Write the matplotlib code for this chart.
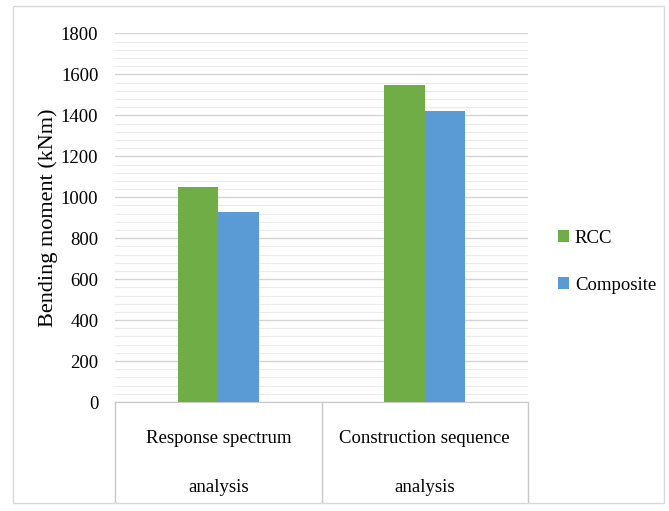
import numpy as np
import matplotlib.pyplot as plt
from matplotlib.patches import Rectangle
from matplotlib.lines import Line2D

# Bending moment for each analysis type
categories = ['Response spectrum\nanalysis', 'Construction sequence\nanalysis']
rcc = [1050, 1550]
composite = [930, 1420]
series_names = ['RCC', 'Composite']

green = '#70AD47'
blue = '#5B9BD5'

plt.rcParams['font.family'] = ['Liberation Serif', 'DejaVu Serif']

fig = plt.figure(figsize=(6.69, 5.11), dpi=100)
ax = fig.add_axes([115/669, 109/511, 413/669, 368.5/511])

x = np.arange(len(categories))
w = 0.195
ax.bar(x - w/2, rcc, w, color=green, label=series_names[0], zorder=3)
ax.bar(x + w/2, composite, w, color=blue, label=series_names[1], zorder=3)

ax.set_xlim(-0.5, 1.5)
ax.set_ylim(0, 1800)
ax.set_yticks(np.arange(0, 1801, 200))
ax.set_yticks(np.arange(0, 1801, 40), minor=True)
ax.grid(axis='y', which='major', color='#d4d4d4', lw=1.0, zorder=0)
ax.grid(axis='y', which='minor', color='#ebebeb', lw=0.8, zorder=0)
ax.tick_params(axis='y', which='both', length=0, pad=12, labelsize=13.5)

ax.set_xticks(x)
ax.set_xticklabels(categories, fontsize=13.5, linespacing=3.45)
ax.tick_params(axis='x', length=0, pad=20)

for s in ['top', 'right', 'left']:
    ax.spines[s].set_visible(False)
ax.spines['bottom'].set_color('#c8c8c8')

# category table lines under the axis
for xv in [0, 0.5, 1]:
    ax.add_line(Line2D([xv, xv], [0, -0.272], transform=ax.transAxes,
                       color='#c8c8c8', lw=1, clip_on=False))

ax.set_ylabel('Bending moment (kNm)', fontsize=16, labelpad=2)

fig.legend(loc='center left', bbox_to_anchor=(541/669, 1 - 262/511),
           frameon=False, fontsize=13.5, handlelength=0.6, handleheight=0.6,
           handletextpad=0.3, labelspacing=1.6)

# outer chart border
fig.add_artist(Rectangle((13/669, 8/511), 651/669, 497/511,
                         transform=fig.transFigure, fill=False,
                         edgecolor='#d9d9d9', lw=1))

fig.savefig('out.png', dpi=100)
